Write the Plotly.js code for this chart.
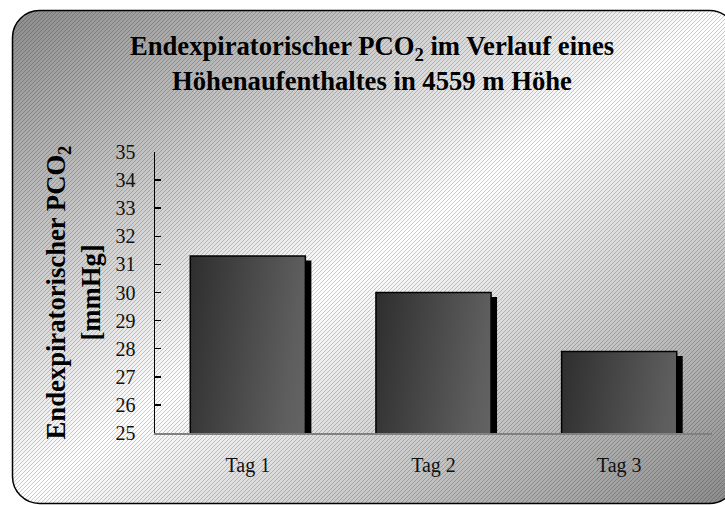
<!DOCTYPE html>
<html>
<head>
<meta charset="utf-8">
<script src="https://cdn.plot.ly/plotly-3.0.1.min.js"></script>
<style>
  html, body { margin: 0; padding: 0; background: #ffffff; }
  #chart { width: 725px; height: 505px; }
</style>
</head>
<body>
<div id="chart"></div>
<script>
// ---- data ----
const categories = ['Tag 1', 'Tag 2', 'Tag 3'];
const pco2Values = [31.3, 30.0, 27.9];
const yRange = [25, 35];

// ---- layout constants ----
const W = 725, H = 505;
const M = { l: 155, r: 13, t: 152, b: 72 };
const plotW = W - M.l - M.r;
const plotH = H - M.t - M.b;
const pxPerCat = plotW / categories.length;
const pxPerUnit = plotH / (yRange[1] - yRange[0]);
const barW = 0.62;
const shadowDx = 6 / pxPerCat;
const shadowDy = 4.5 / pxPerUnit;

const serif = '"Liberation Serif", "Times New Roman", Times, serif';

// background panel (decorative) as an SVG image
const bgSvg =
  '<svg xmlns="http://www.w3.org/2000/svg" width="' + W + '" height="' + H + '">' +
  '<defs>' +
  '<linearGradient id="g" x1="0" y1="0" x2="1" y2="1">' +
  '<stop offset="0" stop-color="#8c8c8c"/>' +
  '<stop offset="0.5" stop-color="#ffffff"/>' +
  '<stop offset="1" stop-color="#8a8a8a"/>' +
  '</linearGradient>' +
  '<pattern id="h" width="4" height="4" patternUnits="userSpaceOnUse">' +
  '<rect x="3" y="0" width="1" height="1" fill="#000" fill-opacity="0.2"/>' +
  '<rect x="2" y="1" width="1" height="1" fill="#000" fill-opacity="0.2"/>' +
  '<rect x="1" y="2" width="1" height="1" fill="#000" fill-opacity="0.2"/>' +
  '<rect x="0" y="3" width="1" height="1" fill="#000" fill-opacity="0.2"/>' +
  '</pattern>' +
  '</defs>' +
  '<rect x="12.5" y="10.5" width="724" height="493" rx="27" ry="27" fill="url(#g)"/>' +
  '<rect x="12.5" y="10.5" width="724" height="493" rx="27" ry="27" fill="url(#h)" stroke="#000" stroke-width="1.5"/>' +
  '</svg>';

const shadowTrace = {
  type: 'bar',
  x: categories,
  y: pco2Values.map(v => v - shadowDy),
  width: barW,
  offset: -barW / 2 + shadowDx,
  marker: { color: '#000000', line: { width: 0 } },
  hoverinfo: 'skip',
  showlegend: false
};

const mainTrace = {
  type: 'bar',
  x: categories,
  y: pco2Values,
  width: barW,
  marker: { color: '#555555', line: { color: '#000000', width: 1.5 } },
  showlegend: false
};

const layout = {
  width: W,
  height: H,
  margin: M,
  paper_bgcolor: '#ffffff',
  plot_bgcolor: 'rgba(0,0,0,0)',
  barmode: 'overlay',
  showlegend: false,
  font: { family: serif, color: '#111111' },
  title: {
    text: 'Endexpiratorischer PCO<sub>2</sub> im Verlauf eines<br>Höhenaufenthaltes in 4559 m Höhe',
    font: { family: serif, size: 26.67, weight: 'bold', color: '#000000' },
    xref: 'container', x: 372 / W, xanchor: 'center',
    yref: 'container', y: 1 - 55 / H, yanchor: 'top'
  },
  xaxis: {
    type: 'category',
    range: [-0.5, categories.length - 0.5],
    showline: true, linecolor: '#808080', linewidth: 1.5,
    showgrid: false, zeroline: false,
    ticks: '',
    ticklabelstandoff: 13,
    tickfont: { family: serif, size: 20, color: '#111111' },
    fixedrange: true
  },
  yaxis: {
    range: yRange,
    dtick: 1, tick0: 25,
    showline: true, linecolor: '#000000', linewidth: 1.5,
    ticks: 'inside', ticklen: 6, tickwidth: 1.5, tickcolor: '#000000',
    showgrid: false, zeroline: false,
    ticklabelstandoff: 14,
    tickfont: { family: serif, size: 20, color: '#111111' },
    title: {
      text: 'Endexpiratorischer PCO<sub>2</sub><br>[mmHg]',
      font: { family: serif, size: 26.67, weight: 'bold', color: '#000000' },
      standoff: 7
    },
    fixedrange: true
  },
  images: [{
    source: 'data:image/svg+xml;charset=utf-8,' + encodeURIComponent(bgSvg),
    xref: 'paper', yref: 'paper',
    x: -M.l / plotW, y: (plotH + M.t) / plotH,
    sizex: W / plotW, sizey: H / plotH,
    xanchor: 'left', yanchor: 'top',
    sizing: 'stretch', layer: 'below'
  }]
};

Plotly.newPlot('chart', [shadowTrace, mainTrace], layout, { displayModeBar: false, staticPlot: true })
  .then(function (gd) {
    const svg = gd.querySelector('.main-svg');
    const ns = 'http://www.w3.org/2000/svg';
    let defs = svg.querySelector('defs');
    if (!defs) { defs = document.createElementNS(ns, 'defs'); svg.insertBefore(defs, svg.firstChild); }
    const lg = document.createElementNS(ns, 'linearGradient');
    lg.setAttribute('id', 'barGrad');
    lg.setAttribute('x1', '0'); lg.setAttribute('y1', '0');
    lg.setAttribute('x2', '1'); lg.setAttribute('y2', '1');
    [['0', '#2e2e2e'], ['0.5', '#5e5e5e'], ['1', '#7a7a7a']].forEach(function (s) {
      const st = document.createElementNS(ns, 'stop');
      st.setAttribute('offset', s[0]);
      st.setAttribute('stop-color', s[1]);
      lg.appendChild(st);
    });
    defs.appendChild(lg);
    const traces = gd.querySelectorAll('.barlayer .trace');
    if (traces.length > 1) {
      traces[1].querySelectorAll('path').forEach(function (p) {
        p.style.fill = 'url(#barGrad)';
      });
    }
  });
</script>
</body>
</html>
